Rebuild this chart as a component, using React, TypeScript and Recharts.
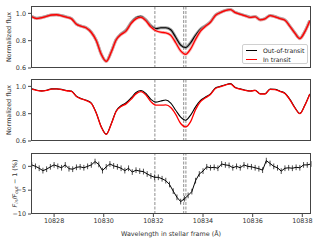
import React from 'react';
import { LineChart, Line, XAxis, YAxis, ReferenceLine, ErrorBar } from 'recharts';

// wavelength grid of the flux spectra (Å, stellar frame)
const fluxWave = [
  10827.1, 10827.3, 10827.5, 10827.7, 10827.9, 10828.1, 10828.3, 10828.5, 10828.7, 10828.9,
  10829.1, 10829.3, 10829.5, 10829.7, 10829.9, 10830.1, 10830.3, 10830.5, 10830.7, 10830.9,
  10831.1, 10831.3, 10831.5, 10831.7, 10831.9, 10832.1, 10832.3, 10832.5, 10832.7, 10832.9,
  10833.1, 10833.3, 10833.5, 10833.7, 10833.9, 10834.1, 10834.3, 10834.5, 10834.7, 10834.9,
  10835.1, 10835.3, 10835.5, 10835.7, 10835.9, 10836.1, 10836.3, 10836.5, 10836.7, 10836.9,
  10837.1, 10837.3, 10837.5, 10837.7, 10837.9, 10838.1, 10838.3,
];

// top panel
const outTop = [
  0.978, 0.965, 0.970, 0.980, 0.988, 0.990, 0.984, 0.974, 0.962, 0.922,
  0.906, 0.894, 0.862, 0.802, 0.702, 0.650, 0.718, 0.808, 0.850, 0.878,
  0.932, 0.968, 0.978, 0.952, 0.910, 0.888, 0.895, 0.895, 0.880, 0.825,
  0.768, 0.750, 0.785, 0.840, 0.885, 0.910, 0.938, 0.987, 1.007, 1.022,
  1.028, 1.007, 0.995, 0.984, 0.972, 0.977, 0.954, 0.962, 0.985, 0.977,
  0.964, 0.952, 0.907, 0.857, 0.817, 0.867, 0.947,
];
const inTop = [
  0.975, 0.962, 0.968, 0.978, 0.988, 0.990, 0.982, 0.972, 0.960, 0.920,
  0.905, 0.893, 0.860, 0.800, 0.700, 0.648, 0.715, 0.805, 0.845, 0.870,
  0.925, 0.960, 0.970, 0.945, 0.900, 0.873, 0.862, 0.858, 0.840, 0.785,
  0.725, 0.700, 0.740, 0.810, 0.870, 0.905, 0.935, 0.985, 1.005, 1.020,
  1.027, 1.005, 0.993, 0.982, 0.970, 0.975, 0.952, 0.960, 0.983, 0.975,
  0.962, 0.950, 0.905, 0.855, 0.815, 0.865, 0.945,
];

// middle panel
const outMid = [
  0.982, 0.972, 0.967, 0.972, 0.982, 0.982, 0.978, 0.970, 0.966, 0.928,
  0.910, 0.898, 0.878, 0.805, 0.705, 0.650, 0.725, 0.820, 0.858, 0.880,
  0.915, 0.955, 0.970, 0.948, 0.905, 0.885, 0.893, 0.900, 0.878, 0.825,
  0.775, 0.752, 0.790, 0.850, 0.897, 0.922, 0.945, 0.988, 1.000, 1.012,
  1.020, 0.992, 0.982, 0.972, 0.966, 0.972, 0.946, 0.946, 0.980, 0.978,
  0.965, 0.950, 0.905, 0.845, 0.802, 0.862, 0.945,
];
const inMid = [
  0.980, 0.970, 0.966, 0.970, 0.980, 0.981, 0.977, 0.968, 0.964, 0.926,
  0.908, 0.896, 0.875, 0.803, 0.703, 0.648, 0.722, 0.816, 0.852, 0.872,
  0.905, 0.945, 0.962, 0.937, 0.888, 0.862, 0.862, 0.864, 0.845, 0.795,
  0.728, 0.703, 0.742, 0.830, 0.888, 0.916, 0.940, 0.985, 0.998, 1.010,
  1.018, 0.990, 0.980, 0.970, 0.965, 0.971, 0.944, 0.944, 0.978, 0.976,
  0.963, 0.947, 0.902, 0.842, 0.800, 0.860, 0.943,
];

// residual panel, F_in / F_out - 1 in %
const residWave = [
  10827.10, 10827.25, 10827.40, 10827.55, 10827.70, 10827.85, 10828.00, 10828.15, 10828.30, 10828.45,
  10828.60, 10828.75, 10828.90, 10829.05, 10829.20, 10829.35, 10829.50, 10829.65, 10829.80, 10829.95,
  10830.10, 10830.25, 10830.40, 10830.55, 10830.70, 10830.85, 10831.00, 10831.15, 10831.30, 10831.45,
  10831.60, 10831.75, 10831.90, 10832.05, 10832.20, 10832.35, 10832.50, 10832.65, 10832.80, 10832.95,
  10833.10, 10833.25, 10833.40, 10833.55, 10833.70, 10833.85, 10834.00, 10834.15, 10834.30, 10834.45,
  10834.60, 10834.75, 10834.90, 10835.05, 10835.20, 10835.35, 10835.50, 10835.65, 10835.80, 10835.95,
  10836.10, 10836.25, 10836.40, 10836.55, 10836.70, 10836.85, 10837.00, 10837.15, 10837.30, 10837.45,
  10837.60, 10837.75, 10837.90, 10838.05, 10838.20, 10838.35,
];
const residual = [
  0.3, 0.0, -0.4, -0.9, -0.6, -0.1, 0.3, 0.0, -0.3, 0.3,
  -0.5, -0.6, -0.2, -0.1, -0.3, 0.0, 0.3, 1.0, 0.4, -0.9,
  -0.1, 0.5, 0.1, -0.1, -0.4, -0.9, -0.4, -1.2, -0.8, -1.0,
  -1.1, -1.6, -2.0, -2.3, -2.3, -2.6, -3.0, -3.8, -5.2, -6.5,
  -7.4, -6.8, -6.1, -5.3, -3.0, -1.6, -1.0, -0.1, -0.3, -0.2,
  -0.4, 0.5, 0.3, 0.2, -0.3, 0.0, -0.3, 0.3, 0.0, -0.1,
  -0.3, -0.5, -0.8, 1.2, 0.6, 0.0, -0.3, -1.0, -0.4, -0.3,
  -0.4, -0.2, -0.3, 0.3, 0.3, 0.5,
];
const residErr = 0.6;

const heLines = [10832.06, 10833.22, 10833.31];
const xTicks = [10828, 10830, 10832, 10834, 10836, 10838];
const fluxTicks = [0.6, 0.8, 1.0];
const residTicks = [-10, -5, 0];

const topRows = fluxWave.map((w, i) => ({ w, out: outTop[i], inn: inTop[i] }));
const midRows = fluxWave.map((w, i) => ({ w, out: outMid[i], inn: inMid[i] }));
const residRows = residWave.map((w, i) => ({ w, r: residual[i], e: residErr }));

const FONT = '"DejaVu Sans", sans-serif';
const AX = '#444';
const tickStyle = { fontSize: 6.4, fill: '#333', fontFamily: FONT };
const X_DOMAIN = [10827.07, 10838.35];
const margin = { top: 6, right: 6, bottom: 0, left: 8 };

function Frame({ top, height }: { top: number; height: number }) {
  return (
    <div style={{ position: 'absolute', left: 31, top, width: 280, height, border: `1px solid ${AX}`, boxSizing: 'border-box', pointerEvents: 'none' }} />
  );
}

function guides() {
  return heLines.map((x) => (
    <ReferenceLine key={x} x={x} stroke="#999" strokeWidth={1.1} strokeDasharray="3 1.5" />
  ));
}

function FluxPanel({ rows, banded }: { rows: any[]; banded: boolean }) {
  return (
    <LineChart width={317} height={72} data={rows} margin={margin}>
      <XAxis dataKey="w" type="number" domain={X_DOMAIN} ticks={xTicks} allowDataOverflow height={4}
        tick={false} tickSize={3} axisLine={false} stroke={AX} />
      <YAxis domain={[0.6, 1.054]} ticks={fluxTicks} allowDataOverflow width={23} tickSize={3} axisLine={false}
        stroke={AX} tick={tickStyle} tickFormatter={(v: number) => v.toFixed(1)}
        label={{ value: 'Normalized flux', angle: -90, position: 'insideLeft', offset: 1, style: { ...tickStyle, textAnchor: 'middle' } }} />
      {guides()}
      {banded && <Line dataKey="out" type="monotone" stroke="#808080" strokeWidth={3} strokeOpacity={0.75} dot={false} isAnimationActive={false} />}
      <Line dataKey="out" type="monotone" stroke="#000" strokeWidth={1.1} dot={false} isAnimationActive={false} />
      {banded && <Line dataKey="inn" type="monotone" stroke="#f49a9a" strokeWidth={3} strokeOpacity={0.7} dot={false} isAnimationActive={false} />}
      <Line dataKey="inn" type="monotone" stroke="#ff0000" strokeWidth={1.3} dot={false} isAnimationActive={false} />
    </LineChart>
  );
}

function ResidLabel({ viewBox }: any) {
  const cx = viewBox.x + 7;
  const cy = viewBox.y + viewBox.height / 2;
  return (
    <text x={cx} y={cy} transform={`rotate(-90 ${cx} ${cy})`} textAnchor="middle" dominantBaseline="central"
      style={{ ...tickStyle }}>
      <tspan fontStyle="italic">F</tspan>
      <tspan fontStyle="italic" fontSize={4.6} dy={1.4}>in</tspan>
      <tspan dy={-1.4}>/</tspan>
      <tspan fontStyle="italic">F</tspan>
      <tspan fontStyle="italic" fontSize={4.6} dy={1.4}>out</tspan>
      <tspan dy={-1.4}> − 1 (%)</tspan>
    </text>
  );
}

function Legend() {
  const row = { display: 'flex', alignItems: 'center', height: 9.5 };
  const sw = (c: string) => <span style={{ display: 'inline-block', width: 11, height: 0, borderTop: `1.3px solid ${c}`, marginRight: 6, marginLeft: 3 }} />;
  return (
    <div style={{ position: 'absolute', left: 242, top: 44, width: 66, height: 20, border: '1px solid #d0d0d0', borderRadius: 2, background: 'rgba(255,255,255,0.85)', boxSizing: 'border-box', fontFamily: FONT, fontSize: 6.2, color: '#222', paddingTop: 0.5 }}>
      <div style={row}>{sw('#000')}Out-of-transit</div>
      <div style={row}>{sw('#ff0000')}In transit</div>
    </div>
  );
}

export default function App() {
  return (
    <div style={{ position: 'absolute', left: 0, top: 0, width: 317, height: 240, background: '#fff', fontFamily: FONT }}>
      <div style={{ position: 'absolute', left: 0, top: 0 }}>
        <FluxPanel rows={topRows} banded />
      </div>
      <Frame top={6} height={62} />
      <Legend />

      <div style={{ position: 'absolute', left: 0, top: 73 }}>
        <FluxPanel rows={midRows} banded={false} />
      </div>
      <Frame top={79} height={62} />

      <div style={{ position: 'absolute', left: 0, top: 147 }}>
        <LineChart width={317} height={93} data={residRows} margin={margin}>
          <XAxis dataKey="w" type="number" domain={X_DOMAIN} ticks={xTicks} allowDataOverflow height={26}
            tickSize={3} tickMargin={1} axisLine={false} stroke={AX} tick={tickStyle}
            label={{ value: 'Wavelength in stellar frame (Å)', position: 'insideBottom', offset: 4, style: { ...tickStyle } }} />
          <YAxis domain={[-10, 2.8]} ticks={residTicks} allowDataOverflow width={23} tickSize={3} axisLine={false}
            stroke={AX} tick={tickStyle} tickFormatter={(v: number) => (v < 0 ? `−${Math.abs(v)}` : `${v}`)}
            label={<ResidLabel />} />
          {guides()}
          <Line dataKey="r" type="linear" stroke="#000" strokeWidth={1} dot={false} isAnimationActive={false}>
            <ErrorBar dataKey="e" direction="y" width={0} stroke="#000" strokeWidth={0.7} />
          </Line>
        </LineChart>
      </div>
      <Frame top={153} height={61} />
    </div>
  );
}
